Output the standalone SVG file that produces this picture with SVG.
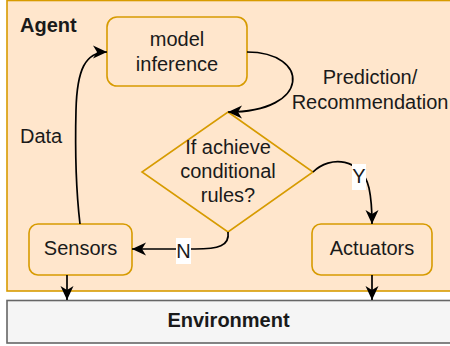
<svg xmlns="http://www.w3.org/2000/svg" width="450" height="346" viewBox="0 0 450 346">
  <defs>
    <marker id="arr" markerUnits="userSpaceOnUse" markerWidth="16" markerHeight="14" refX="14" refY="6.5" orient="auto" overflow="visible">
      <path d="M0,0 L14,6.5 L0,13 L4,6.5 Z" fill="#000"/>
    </marker>
  </defs>
  <style>
    .box { fill: #ffe6cc; stroke: #d79b00; stroke-width: 1.6; }
    .txt { font-family: "Liberation Sans", Arial, sans-serif; font-size: 20px; fill: #1a1a1a; text-anchor: middle; }
    .bold { font-weight: bold; }
    .edge { fill: none; stroke: #000; stroke-width: 1.7; marker-end: url(#arr); }
    .lbl { fill: #fff; }
  </style>
  <g id="agent">
    <rect x="7" y="0.5" width="460" height="290.5" fill="#ffe6cc" stroke="#d79b00" stroke-width="1.6"/>
    <text class="txt bold" x="20" y="32" text-anchor="start" style="text-anchor:start">Agent</text>
  </g>
  <g id="environment">
    <rect x="7" y="300.5" width="460" height="42.5" fill="#f5f5f5" stroke="#666666" stroke-width="1.6"/>
    <text class="txt bold" x="228.5" y="327">Environment</text>
  </g>
  <g id="model-inference">
    <rect class="box" x="107" y="17" width="140" height="69" rx="10"/>
    <text class="txt" x="177" y="46">model</text>
    <text class="txt" x="177" y="71">inference</text>
  </g>
  <g id="decision">
    <polygon class="box" points="228,112 313,172 228,232 142,172"/>
    <text class="txt" x="228" y="154">If achieve</text>
    <text class="txt" x="228" y="178">conditional</text>
    <text class="txt" x="228" y="202">rules?</text>
  </g>
  <g id="sensors">
    <rect class="box" x="29" y="224" width="103" height="51" rx="9"/>
    <text class="txt" x="80.5" y="255">Sensors</text>
  </g>
  <g id="actuators">
    <rect class="box" x="312" y="224" width="120" height="51" rx="9"/>
    <text class="txt" x="372" y="255">Actuators</text>
  </g>
  <g id="connectors">
    <path class="edge" d="M80,224 C76,190 75,150 76,110 C77,70 85,52 107,52"/>
    <path class="edge" d="M247,52 C310,52 312,112 228,112"/>
    <path class="edge" d="M313,172 C330,155 362,158 369,188 Q372,202 372,224"/>
    <path class="edge" d="M228,232 C230,246 218,249 195,249 L132,249"/>
    <path class="edge" d="M67,275 L67,300"/>
    <path class="edge" d="M372,275 L372,300"/>
    <text class="txt" x="20" y="143" style="text-anchor:start">Data</text>
    <text class="txt" x="370" y="84">Prediction/</text>
    <text class="txt" x="370" y="109">Recommendation</text>
    <rect class="lbl" x="352" y="164" width="14" height="26"/>
    <text class="txt" x="359" y="183">Y</text>
    <rect class="lbl" x="176" y="238" width="15" height="26"/>
    <text class="txt" x="183.5" y="258">N</text>
  </g>
</svg>
